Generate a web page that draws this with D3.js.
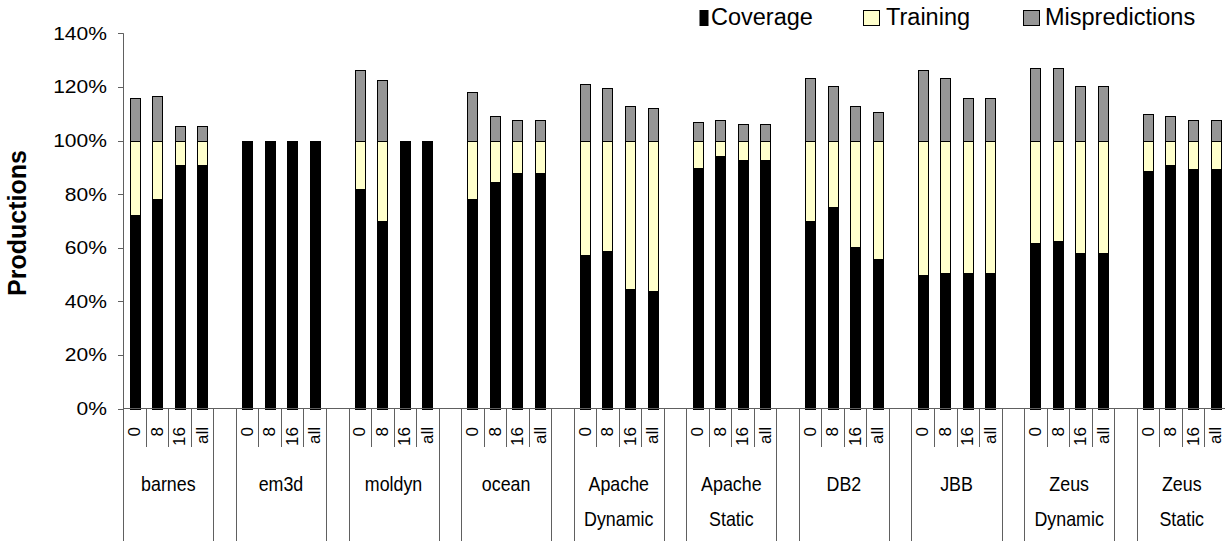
<!DOCTYPE html>
<html><head><meta charset="utf-8">
<script src="https://cdn.jsdelivr.net/npm/d3@7"></script>
<style>body{margin:0;background:#fff}svg{display:block}text{font-family:Arial,"Liberation Sans",sans-serif}</style>
</head><body>
<svg id="c" width="1225" height="541"></svg>
<script>
const groups = ["barnes","em3d","moldyn","ocean","Apache\nDynamic","Apache\nStatic","DB2","JBB","Zeus\nDynamic","Zeus\nStatic"];
const configs = ["0","8","16","all"];
const seriesNames = ["Coverage","Training","Mispredictions"];
const coverage = [
  [72.2,78.1,90.7,90.7],[100,100,100,100],[81.9,69.9,100,100],[78.1,84.7,87.7,87.7],
  [57.3,58.8,44.6,43.9],[89.9,94.4,92.9,92.9],[69.8,75.1,60.1,55.7],[49.8,50.6,50.6,50.6],
  [61.7,62.4,58.1,58.1],[88.5,90.7,89.2,89.2]];
const training = [
  [27.8,21.9,9.3,9.3],[0,0,0,0],[18.1,30.1,0,0],[21.9,15.3,12.3,12.3],
  [42.7,41.2,55.4,56.1],[10.1,5.6,7.1,7.1],[30.2,24.9,39.9,44.3],[50.2,49.4,49.4,49.4],
  [38.3,37.6,41.9,41.9],[11.5,9.3,10.8,10.8]];
const mispredictions = [
  [15.7,16.6,5.4,5.4],[0,0,0,0],[26.3,22.5,0,0],[18.1,9.1,7.6,7.6],
  [21.0,19.5,12.8,12.0],[6.9,7.6,6.1,6.1],[23.2,20.3,12.8,10.6],[26.2,23.3,15.8,15.8],
  [26.9,26.9,20.3,20.3],[9.9,9.1,7.6,7.6]];
const yTicks = [0,20,40,60,80,100,120,140];

const colors = ["#000000","#FFFFCC","#969696"];
const svg = d3.select("#c");
const axisColor = "#606060";

// slots: 4 configs per group, one blank slot between groups
const slots = [];
groups.forEach((g,gi)=>{
  configs.forEach((c,ci)=>slots.push({key:gi+"-"+ci, gi, ci}));
  if (gi < groups.length-1) slots.push({key:"gap"+gi, gi:-1});
});
const x = d3.scaleBand().domain(slots.map(s=>s.key)).range([123.3, 123.3 + 49*22.52]).padding(0);
const y = d3.scaleLinear().domain([0,140]).range([408.5, 33.3]);
const bw = 10;

// bars
const data = [];
groups.forEach((g,gi)=>configs.forEach((c,ci)=>{
  const vals = [coverage[gi][ci], training[gi][ci], mispredictions[gi][ci]];
  let base = 0;
  vals.forEach((v,si)=>{ if (v>0) data.push({gi,ci,si,y0:base,y1:base+v}); base += v; });
}));
svg.append("g").selectAll("rect").data(data).join("rect")
  .attr("x", d=>Math.round(x(d.gi+"-"+d.ci) + x.bandwidth()/2 - bw/2)+0.5)
  .attr("width", bw)
  .attr("y", d=>Math.round(y(d.y1))+0.5)
  .attr("height", d=>Math.round(y(d.y0))-Math.round(y(d.y1)))
  .attr("fill", d=>colors[d.si])
  .attr("stroke","#000").attr("stroke-width",1);

// y axis
const ax = svg.append("g").attr("stroke", axisColor).attr("stroke-width",1);
ax.append("line").attr("x1",123.5).attr("x2",123.5).attr("y1",y(140)).attr("y2",y(0));
yTicks.forEach(t=>{
  const yy = Math.round(y(t))+0.5;
  ax.append("line").attr("x1",118).attr("x2",123.5).attr("y1",yy).attr("y2",yy);
  svg.append("text").attr("transform",`translate(107,${y(t)+6.5}) scale(1.17,1)`)
    .attr("text-anchor","end").attr("font-size",18).text(t+"%");
});
svg.append("text").attr("transform","translate(17,223) rotate(-90)")
  .attr("text-anchor","middle").attr("dy","0.35em").attr("font-size",25).attr("font-weight","bold").text("Productions");

// x axis
ax.append("line").attr("x1",123).attr("x2",1225).attr("y1",408.5).attr("y2",408.5);
slots.forEach((s,i)=>{
  const xl = Math.round(x(s.key))+0.5;
  const longLine = (s.gi<0) || s.ci===0;
  ax.append("line").attr("x1",xl).attr("x2",xl).attr("y1",408.5).attr("y2", longLine?541:447);
  if (s.gi>=0) {
    svg.append("text").attr("transform",`translate(${x(s.key)+x.bandwidth()/2},427) rotate(-90)`)
      .attr("text-anchor","end").attr("dy","0.33em").attr("font-size",17).text(configs[s.ci]);
  }
});
// group labels
groups.forEach((g,gi)=>{
  const cx = x(gi+"-0") + 2*x.bandwidth();
  g.split("\n").forEach((line,li)=>{
    svg.append("text").attr("transform",`translate(${cx},${491+li*35}) scale(0.85,1)`)
      .attr("text-anchor","middle").attr("font-size",21).text(line);
  });
});

// legend
const legend = [
  {sx:700, sw:8, tx:711},
  {sx:863.5, sw:16, tx:886},
  {sx:1023.5, sw:16, tx:1045}
];
legend.forEach((l,i)=>{
  svg.append("rect").attr("x",l.sx).attr("y",10.5).attr("width",l.sw).attr("height",15)
    .attr("fill",colors[i]).attr("stroke","#000").attr("stroke-width",1);
  svg.append("text").attr("x",l.tx).attr("y",25).attr("font-size",23.5).text(seriesNames[i]);
});
</script>
</body></html>
